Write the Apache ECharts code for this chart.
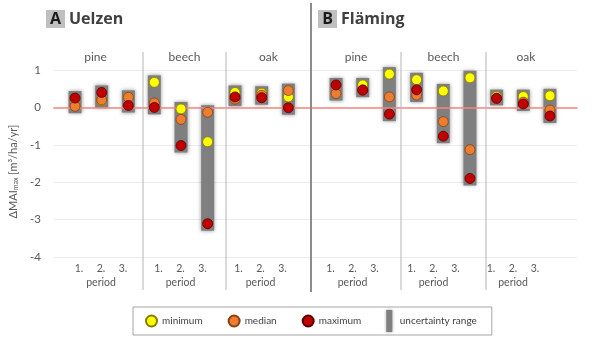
<!DOCTYPE html>
<html><head><meta charset="utf-8">
<script src="https://cdn.jsdelivr.net/npm/echarts@6/dist/echarts.min.js"></script>
<style>html,body{margin:0;padding:0;background:#fff}#c{width:599px;height:340px}</style>
</head><body><div id="c"></div>
<script>
// ---------- data ----------
const periods = ['1.', '2.', '3.'];
const species = ['pine', 'beech', 'oak'];
const sites = ['Uelzen', 'Fläming'];
const siteLetters = ['A', 'B'];
const periodLabel = 'period';
const yAxisMin = -4, yAxisMax = 1, yAxisStep = 1;
// order: pine 1..3, beech 1..3, oak 1..3
const uelzenMin    = [0.22, 0.18, 0.27, 0.67, -0.04, -0.92, 0.40, 0.38, 0.28];
const uelzenMedian = [0.03, 0.20, 0.27, 0.12, -0.32, -0.13, 0.22, 0.33, 0.45];
const uelzenMax    = [0.25, 0.40, 0.05, 0.00, -1.02, -3.11, 0.28, 0.26, -0.01];
const flamingMin    = [0.58, 0.60, 0.89, 0.74, 0.44, 0.79, 0.29, 0.29, 0.31];
const flamingMedian = [0.37, 0.47, 0.28, 0.33, -0.38, -1.13, 0.25, 0.14, -0.07];
const flamingMax    = [0.60, 0.46, -0.18, 0.47, -0.77, -1.90, 0.24, 0.09, -0.23];
const seriesNames = ['minimum', 'median', 'maximum'];
const rangeName = 'uncertainty range';

// ---------- layout / style ----------
const PLOT_TOP = 70, PLOT_BOTTOM_PX = 83, PLOT_LEFT = 48, PLOT_RIGHT_PX = 22;
const CAT_W = 26.67;
const dataCenters = [101.7, 181, 261.7, 362.7, 443.3, 523.3];
const labelCenters = [101, 180.5, 260.5, 352.5, 433.5, 513];
const LABEL_W = 66;
const speciesLabelX = [95.5, 184.5, 268.5, 356, 443.5, 526];
const separatorsX = [143, 226, 401, 486];
const siteSeparatorX = 311;
const titleBoxX = [46, 318];
const colors = ['#ffff00', '#ed7d31', '#c00000'];
const borders = ['#8a7a00', '#8a4010', '#5a0000'];
const FONT = 'Lato';
const TXT = '#595959';

const siteData = [
  [uelzenMin, uelzenMedian, uelzenMax],
  [flamingMin, flamingMedian, flamingMax]
];

const grids = [], xAxes = [], yAxes = [], series = [], graphics = [];

// master grid: gridlines, y labels, zero line
grids.push({left: PLOT_LEFT, right: PLOT_RIGHT_PX, top: PLOT_TOP, bottom: PLOT_BOTTOM_PX});
xAxes.push({gridIndex: 0, type: 'value', min: 0, max: 1, axisLabel: {show: false}, axisTick: {show: false},
  splitLine: {show: false}, axisLine: {show: true, onZero: true, lineStyle: {color: '#f4877f', width: 1.5}}, z: 3});
yAxes.push({gridIndex: 0, type: 'value', min: yAxisMin, max: yAxisMax, interval: yAxisStep,
  axisLine: {show: false}, axisTick: {show: false},
  splitLine: {lineStyle: {color: '#ececec', width: 1}},
  axisLabel: {color: TXT, fontFamily: FONT, fontSize: 11.5, margin: 13},
  name: '{a|ΔMAI}{s|max}{a| [m³/ha/yr]}', nameLocation: 'middle', nameGap: 28,
  nameTextStyle: {padding: [0, 16, 0, 0], rich: {
    a: {fontFamily: FONT, fontSize: 11, color: TXT},
    s: {fontFamily: FONT, fontSize: 7, color: TXT, verticalAlign: 'bottom', padding: [4, 0, 0, 0]}
  }}
});

let panel = 0;
for (let s = 0; s < sites.length; s++) {
  for (let sp = 0; sp < species.length; sp++, panel++) {
    const vals = siteData[s].map(arr => arr.slice(sp * 3, sp * 3 + 3));
    // data grid
    const gi = grids.length;
    grids.push({left: dataCenters[panel] - 1.5 * CAT_W, width: 3 * CAT_W, top: PLOT_TOP, bottom: PLOT_BOTTOM_PX});
    xAxes.push({gridIndex: gi, type: 'category', data: periods, show: false});
    yAxes.push({gridIndex: gi, type: 'value', min: yAxisMin, max: yAxisMax, show: false});
    const rangeData = periods.map((p, i) => {
      const v = vals.map(a => a[i]);
      return [i, Math.min(...v), Math.max(...v)];
    });
    series.push({
      type: 'custom', name: rangeName, xAxisIndex: gi, yAxisIndex: gi, z: 2,
      itemStyle: {color: '#808080'},
      data: rangeData,
      renderItem: function (params, api) {
        const x = api.value(0);
        const pHi = api.coord([x, api.value(2)]);
        const pLo = api.coord([x, api.value(1)]);
        const w = 13, pad = 7;
        return {type: 'rect',
          shape: {x: pHi[0] - w / 2, y: pHi[1] - pad, width: w, height: pLo[1] - pHi[1] + 2 * pad},
          style: {fill: '#7f7f7f', shadowBlur: 4, shadowColor: 'rgba(0,0,0,0.4)'}};
      }
    });
    for (let k = 0; k < 3; k++) {
      series.push({
        type: 'scatter', name: seriesNames[k], xAxisIndex: gi, yAxisIndex: gi, z: 3 + k,
        symbol: 'circle', symbolSize: 10,
        itemStyle: {color: colors[k], borderColor: borders[k], borderWidth: 0.8, opacity: 1},
        data: periods.map((p, i) => [p, vals[k][i]])
      });
    }
    // label grid
    const li = grids.length;
    grids.push({left: labelCenters[panel] - LABEL_W / 2, width: LABEL_W, top: 259, height: 1});
    xAxes.push({gridIndex: li, type: 'category', data: periods, position: 'bottom',
      axisLine: {show: false}, axisTick: {show: false},
      axisLabel: {color: TXT, fontFamily: FONT, fontSize: 10.5, margin: 3},
      name: periodLabel, nameLocation: 'middle', nameGap: 17,
      nameTextStyle: {color: TXT, fontFamily: FONT, fontSize: 10.5}});
    yAxes.push({gridIndex: li, type: 'value', show: false});

    // species label
    graphics.push({type: 'text', x: speciesLabelX[panel], y: 57, z: 10,
      style: {text: species[sp], fill: TXT, font: '12px ' + FONT, textAlign: 'center', textVerticalAlign: 'middle'}});
  }
}

separatorsX.forEach(x => graphics.push({type: 'line', z: 10,
  shape: {x1: x, y1: 52, x2: x, y2: 290}, style: {stroke: '#b4b4b4', lineWidth: 1}}));
graphics.push({type: 'line', z: 10, shape: {x1: siteSeparatorX, y1: 3, x2: siteSeparatorX, y2: 292},
  style: {stroke: '#8c8c8c', lineWidth: 2}});

sites.forEach((name, i) => {
  const bx = titleBoxX[i];
  graphics.push({type: 'rect', z: 10, shape: {x: bx, y: 10, width: 19, height: 18}, style: {fill: '#bfbfbf'}});
  graphics.push({type: 'text', z: 11, x: bx + 9.5, y: 19.5,
    style: {text: siteLetters[i], fill: '#1a1a1a', font: 'bold 16px "Open Sans"', textAlign: 'center', textVerticalAlign: 'middle'}});
  graphics.push({type: 'text', z: 11, x: bx + 23, y: 19.5,
    style: {text: name, fill: '#404040', font: 'bold 16px "Open Sans"', textAlign: 'left', textVerticalAlign: 'middle'}});
});

const chart = echarts.init(document.getElementById('c'), null, {renderer: 'canvas'});
chart.setOption({
  animation: false,
  backgroundColor: '#ffffff',
  grid: grids, xAxis: xAxes, yAxis: yAxes, series: series,
  graphic: graphics,
  legend: {
    data: [
      {name: 'minimum', icon: 'circle'},
      {name: 'median', icon: 'circle'},
      {name: 'maximum', icon: 'circle'},
      {name: rangeName, icon: 'path://M0 0H6V22H0Z', itemStyle: {color: '#808080', shadowBlur: 3, shadowColor: 'rgba(0,0,0,0.4)'}}
    ],
    left: 133, top: 307, itemWidth: 11, itemHeight: 22, itemGap: 25,
    padding: [3, 15, 3, 12], borderColor: '#a6a6a6', borderWidth: 1,
    textStyle: {fontFamily: FONT, fontSize: 10, color: '#404040'},
    selectedMode: false
  }
});
</script>
</body></html>
